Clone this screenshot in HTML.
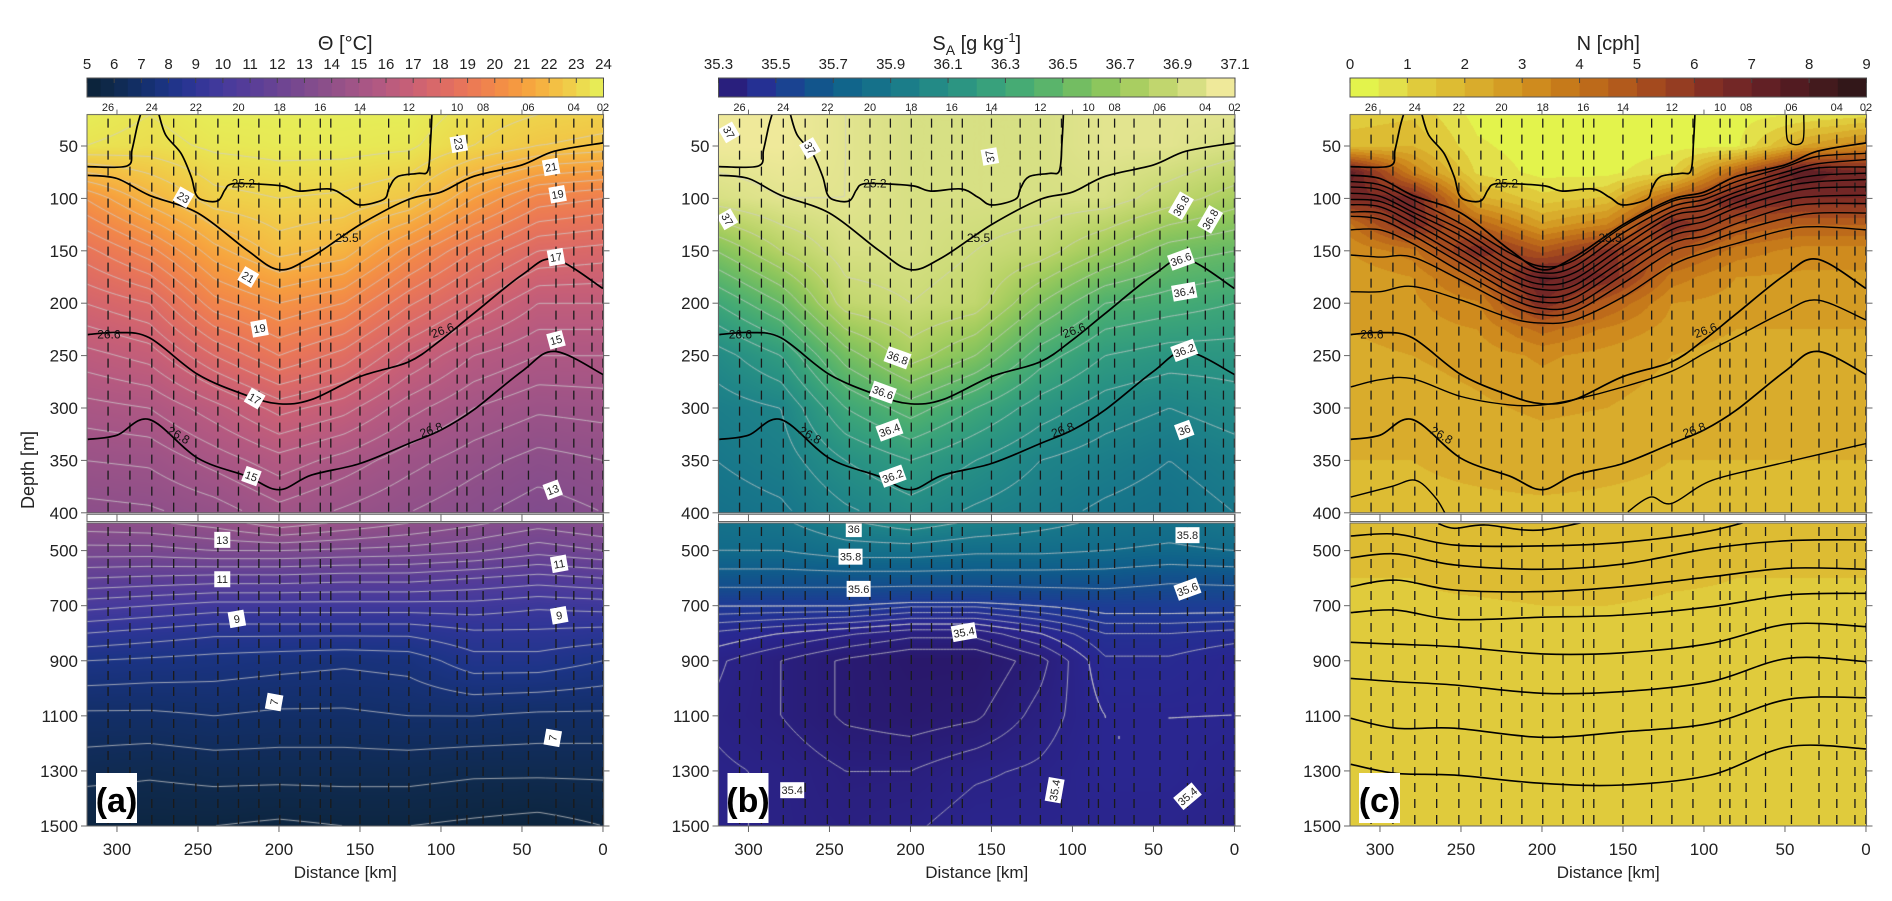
<!DOCTYPE html>
<html><head><meta charset="utf-8">
<style>
body{margin:0;background:#fff;width:1892px;height:901px;overflow:hidden;font-family:"Liberation Sans",sans-serif}
#cv{position:absolute;left:0;top:0}
#sv{position:absolute;left:0;top:0}
</style></head>
<body>
<canvas id="cv" width="1892" height="901"></canvas>
<svg id="sv" width="1892" height="901" xmlns="http://www.w3.org/2000/svg"></svg>
<script>
// ---------------- DATA ----------------
const KM=[320,280,240,200,160,120,80,40,0];
const DEP_U=[20,50,100,150,200,250,300,350,400];
const DEP_L=[400,500,600,700,800,900,1100,1300,1500];
const THETA_U=[
[23.8,23.5,23.8,23.8,23.8,23.8,23.3,23.0,22.8],
[23.5,23.3,23.6,23.7,23.7,23.6,23.0,22.5,22.3],
[20.5,21.8,22.8,23.0,22.9,22.5,21.0,19.8,19.5],
[18.8,19.8,21.3,22.2,21.8,20.3,19.0,18.0,17.8],
[17.5,18.0,19.8,20.5,20.0,18.6,17.5,16.5,16.5],
[16.3,16.7,18.0,19.0,18.3,17.0,16.0,15.5,15.5],
[15.3,15.5,16.3,17.2,16.7,15.7,15.0,14.6,14.7],
[14.5,14.6,15.2,15.8,15.3,14.7,14.2,13.8,14.0],
[13.8,13.9,14.2,14.8,14.4,14.0,13.6,13.2,13.5]];
const THETA_L=[
[13.8,13.9,14.2,14.8,14.4,14.0,13.6,13.2,13.5],
[12.8,12.8,13.0,13.0,12.9,12.8,12.6,12.2,12.5],
[11.5,11.4,11.3,11.3,11.2,11.2,11.0,10.8,11.0],
[10.2,10.0,9.8,9.8,9.8,9.8,9.8,9.6,9.7],
[9.0,8.8,8.6,8.6,8.6,8.6,8.9,8.9,8.8],
[8.0,7.9,7.8,7.7,7.6,7.7,8.3,8.3,8.0],
[6.9,6.9,7.0,6.9,6.9,7.0,7.0,6.9,6.9],
[6.2,6.1,6.2,6.2,6.2,6.2,6.1,6.1,6.1],
[5.5,5.5,5.5,5.4,5.5,5.5,5.4,5.3,5.5]];
const SA_U=[
[37.05,37.05,37.0,36.95,36.95,36.95,37.0,37.0,37.0],
[37.05,37.05,37.0,36.95,36.95,36.95,37.0,37.0,36.95],
[36.95,37.0,37.0,36.95,36.95,36.95,36.95,36.85,36.75],
[36.6,36.8,36.95,36.95,36.9,36.85,36.7,36.55,36.5],
[36.3,36.5,36.85,36.9,36.85,36.6,36.4,36.35,36.3],
[36.05,36.2,36.55,36.75,36.6,36.35,36.2,36.15,36.15],
[35.95,36.0,36.3,36.45,36.3,36.15,36.05,36.0,36.05],
[35.9,35.95,36.1,36.2,36.1,36.0,35.95,35.9,35.95],
[35.85,35.88,35.98,36.05,35.98,35.93,35.88,35.85,35.9]];
const SA_L=[
[35.85,35.88,35.98,36.05,35.98,35.93,35.88,35.85,35.9],
[35.8,35.8,35.85,35.85,35.82,35.82,35.8,35.78,35.8],
[35.65,35.65,35.65,35.65,35.65,35.65,35.65,35.62,35.63],
[35.5,35.5,35.5,35.48,35.48,35.5,35.52,35.52,35.52],
[35.42,35.4,35.38,35.36,35.36,35.4,35.45,35.45,35.44],
[35.38,35.35,35.32,35.3,35.3,35.34,35.42,35.42,35.4],
[35.37,35.35,35.32,35.31,35.32,35.36,35.4,35.4,35.4],
[35.38,35.37,35.35,35.35,35.37,35.38,35.4,35.4,35.39],
[35.38,35.37,35.36,35.37,35.39,35.39,35.39,35.39,35.38]];
const DEP_NU=[20,50,75,100,125,150,175,200,225,250,300,350,400];
const N_U=[
[1.2,1.4,0.3,0.2,0.2,0.2,0.3,0.5,0.8],
[1.8,2.0,0.6,0.2,0.2,0.3,0.4,2.5,3.5],
[7.5,3.5,0.9,0.3,0.3,1.0,4.5,7.5,6.5],
[6.5,6.8,2.2,1.2,1.6,4.5,6.8,6.5,6.5],
[3.8,6.5,4.5,2.6,3.5,6.5,5.0,4.5,4.5],
[3.0,3.8,6.5,4.8,6.2,5.0,3.8,3.3,3.3],
[2.6,3.0,4.6,7.2,6.5,3.8,3.0,2.9,2.9],
[2.5,2.9,3.4,6.5,4.6,3.0,2.8,2.7,2.7],
[2.5,2.8,3.0,4.2,3.4,2.8,2.5,2.5,2.5],
[2.3,2.5,2.7,3.1,2.8,2.5,2.3,2.3,2.3],
[2.1,2.2,2.4,2.6,2.5,2.3,2.2,2.2,2.2],
[2.0,2.0,2.1,2.2,2.1,2.0,2.0,2.0,2.0],
[1.9,1.9,1.9,1.9,1.9,1.9,1.9,1.9,1.9]];
const N_L=[
[1.9,1.9,1.9,1.9,1.9,1.9,1.9,1.9,1.9],
[1.7,1.7,1.9,2.0,1.9,1.8,1.6,1.6,1.6],
[1.5,1.5,1.7,1.8,1.8,1.6,1.5,1.5,1.5],
[1.4,1.4,1.4,1.5,1.5,1.4,1.4,1.4,1.4],
[1.3,1.3,1.3,1.3,1.3,1.3,1.3,1.3,1.3],
[1.2,1.2,1.2,1.2,1.2,1.2,1.2,1.2,1.2],
[1.1,1.1,1.1,1.1,1.1,1.1,1.1,1.1,1.1],
[1.05,1.05,1.05,1.05,1.05,1.05,1.05,1.05,1.05],
[1.0,1.0,1.0,1.0,1.0,1.0,1.0,1.0,1.0]];

// isopycnals
const ISO_KM=[318,300,280,250,220,200,180,150,120,100,80,50,30,0];
const ISO_255=[78,81,97,114,149,168,156,125,101,94,79,68,55,47];
const ISO_266=[230,228,233,268,288,296,292,270,256,235,210,173,158,186];
const ISO_268=[330,326,311,348,365,378,364,353,334,321,302,265,246,268];
const ISO_252_KM=[274.1,269.9,260.5,254.2,251.1,245.9,237.5,233.4,229.2,214.6,197.9,187.4,168.7,158.2,149.9,135.3,132.1,126.9,114.4,108.1,106.5,105.6];
const ISO_252_D=[20,39.5,57,79.3,96.7,102.1,102.1,92,86.2,86.2,88.2,93,91,99,106.3,100.9,90.4,79.3,76.1,73.8,47.5,20];
const ISO_TOP_KM=[318.5,293.9,290.7,287.6,285.5];
const ISO_TOP_D=[69.7,69.1,53.8,31.6,20];
const C_B=[
[84,87,101,124,152,165,159,127,103,97,84,70,60,57],
[89,92,108,130,159,171,165,133,108,101,89,75,67,63],
[95,98,113,136,165,176,171,140,113,106,94,79,71,70],
[101,103,117,143,171,182,177,146,117,111,98,84,78,76],
[106,108,123,149,177,187,183,152,124,117,104,89,84,82],
[113,114,129,156,183,194,189,159,130,122,109,95,90,89],
[117,120,135,162,189,199,195,165,136,129,116,102,98,97],
[130,130,143,170,195,205,202,173,143,136,124,109,105,105],
[154,156,156,178,202,211,208,181,151,143,132,119,114,114],
[189,189,184,197,214,219,216,194,164,152,143,130,127,130],
[280,273,272,289,297,297,292,280,265,248,232,208,197,216]];
const C_E2A_KM=[318,293,278,266,260], C_E2A_D=[385,375,369,385,400];
const C_E2B_KM=[147,133,120,95,53,0], C_E2B_D=[399,385,391,369,353,334];
const C_BOX_KM=[49.2,48.2,39.2,38.4], C_BOX_D=[20,45,46,20];
const LOW_KM=[318,290,254,200,150,96,48,0];
const C_LOW=[
[526,512,552,568,549,492,464,461],
[631,607,643,649,631,595,564,568],
[725,716,750,742,734,704,661,655],
[833,840,849,875,871,837,767,776],
[964,976,988,1018,1012,976,891,903],
[1109,1145,1145,1178,1158,1127,1040,1034],
[1276,1309,1315,1345,1351,1315,1212,1220]];
const C_LOW1_KM=[264,254,235,200,150], C_LOW1_D=[402,419,407,425,400];
const C_LOW2_KM=[318,290,254,200,150,96,50], C_LOW2_D=[447,440,480,483,470,428,398];

const STATIONS=[305.5,292,278.5,265,251.3,237.7,225,212.4,199.5,187,174.5,168,150,132.3,119.8,106.8,90,84,74,62,46,29,18,6.8,0];
const STATION_IDS=["26","25","24","23","22","21","20","19","18","17","16","15","14","13","12","11","10","09","08","07","06","05","04","03","02"];
const X_TICKS=[300,250,200,150,100,50,0];
const YU_TICKS=[50,100,150,200,250,300,350,400];
const YL_TICKS=[500,700,900,1100,1300,1500];

const ISO_LABELS=[["25.2",222,86,0],["25.5",158,138,0],["26.6",305,230,0],["26.6",99,226,-20],["26.8",262,326,30],["26.8",106,321,-20]];
const A_LABELS=[["23",89,48,80],["21",32,70,-10],["19",28,96,-10],["23",259,99,30],["21",219,175,30],["19",212,224,-10],["17",29,156,-10],["17",215,291,30],["15",29,235,-15],["15",217,365,20],["13",31,378,-20],
["13",235,461,0],["11",235,604,0],["9",226,748,-10],["7",203,1050,-80],["11",27,548,-10],["9",27,735,-10],["7",31,1180,-80]];
const B_LABELS=[["37",312,37,60],["37",262,52,60],["37",151,60,-100],["37",313,120,60],["36.8",33,107,-60],["36.8",15,120,-60],["36.6",33,158,-20],["36.4",31,189,-10],["36.2",31,245,-20],["36",31,321,-20],
["36.8",208,252,20],["36.6",217,285,20],["36.4",213,321,-20],["36.2",211,365,-20],
["36",235,422,0],["35.8",237,522,0],["35.6",232,639,0],["35.4",167,796,-10],["35.8",29,444,0],["35.6",29,640,-20],["35.4",273,1370,0],["35.4",111,1370,-80],["35.4",29,1392,-40]];

const THERMAL=[[5,'#0b2236'],[6,'#0f2a4e'],[7,'#132f6a'],[8,'#1c3486'],[9,'#2f3597'],[10,'#453a9c'],[11,'#573d98'],[12,'#6a4393'],[13,'#7d4a8e'],[14,'#905089'],[15,'#a45586'],[16,'#b75a80'],[17,'#ca6075'],[18,'#dc6a66'],[19,'#ea7757'],[20,'#f28849'],[21,'#f69e3e'],[22,'#f5b942'],[23,'#eed44b'],[24,'#e4f35a']];
const HALINE=[[35.3,'#29186b'],[35.4,'#2a2690'],[35.5,'#1f3a96'],[35.6,'#144d8c'],[35.7,'#0f5e8b'],[35.8,'#126b8a'],[35.9,'#18778a'],[36.0,'#1f8488'],[36.1,'#279084'],[36.2,'#319b7f'],[36.3,'#3ea678'],[36.4,'#4fb06f'],[36.5,'#66b966'],[36.6,'#80c25e'],[36.7,'#9bca5c'],[36.8,'#b6d265'],[36.9,'#ccdb78'],[37.0,'#e2e48f'],[37.1,'#fdefa5']];
const N_COLORS=['#e3f34c','#e3e04a','#e0cb3c','#ddbc33','#d9ac2c','#d49c24','#cf8b1e','#c67a1a','#bd6a1a','#b25a1c','#a44a1e','#953d22','#832f24','#732726','#622025','#521b21','#431a1d','#321719'];

// ---------------- GEOMETRY ----------------
const LEFTS=[87,718.5,1350];
const PW=516.5, KMAX=318.5, SX=1.62;
const U_TOP=114.6, U_BOT=512.8, L_TOP=523, L_BOT=826;
const xOf=(p,km)=>LEFTS[p]+(KMAX-km)*SX;
const yU=d=>146+(d-50)*1.048;
const yL=d=>826-(1500-d)*0.2754;
const dU=y=>50+(y-146)/1.048;
const dL=y=>1500-(826-y)/0.2754;
const yAny=d=>d<=400?yU(d):yL(d);

function hex(h){return [parseInt(h.slice(1,3),16),parseInt(h.slice(3,5),16),parseInt(h.slice(5,7),16)];}
function cmap(stops,v){
  if(v<=stops[0][0]) return hex(stops[0][1]);
  for(let i=0;i<stops.length-1;i++){
    if(v<=stops[i+1][0]){const t=(v-stops[i][0])/(stops[i+1][0]-stops[i][0]);const a=hex(stops[i][1]),b=hex(stops[i+1][1]);return [a[0]+(b[0]-a[0])*t,a[1]+(b[1]-a[1])*t,a[2]+(b[2]-a[2])*t];}
  }
  return hex(stops[stops.length-1][1]);
}
function ncol(v){let b=Math.floor(v/0.5);b=Math.max(0,Math.min(17,b));return hex(N_COLORS[b]);}
function fieldAt(grid,kms,deps,km,d){
  let i=0; while(i<kms.length-2 && km<kms[i+1]) i++;
  let t=(kms[i]-km)/(kms[i]-kms[i+1]); t=Math.max(0,Math.min(1,t));
  let j=0; while(j<deps.length-2 && d>deps[j+1]) j++;
  let u=(d-deps[j])/(deps[j+1]-deps[j]); u=Math.max(0,Math.min(1,u));
  return grid[j][i]*(1-t)*(1-u)+grid[j][i+1]*t*(1-u)+grid[j+1][i]*(1-t)*u+grid[j+1][i+1]*t*u;
}

// ---------------- CANVAS FIELDS ----------------
const cv=document.getElementById('cv'), ctx=cv.getContext('2d');
const img=ctx.createImageData(1892,901);
const PANEL_DEF=[
 {u:[THETA_U,DEP_U],l:[THETA_L,DEP_L],col:v=>cmap(THERMAL,v),levels:[],cont:true},
 {u:[SA_U,DEP_U],l:[SA_L,DEP_L],col:v=>cmap(HALINE,v),levels:[],cont:true},
 {u:[N_U,DEP_NU],l:[N_L,DEP_L],col:ncol,levels:[],cont:false}];
for(let v=5;v<=24.01;v+=0.5) PANEL_DEF[0].levels.push(v);
for(let v=35.3;v<=37.11;v+=0.1) PANEL_DEF[1].levels.push(v);
for(let v=35.325;v<35.5;v+=0.025) PANEL_DEF[1].levels.push(v);
const SECTS=[[U_TOP,U_BOT,dU,'u'],[L_TOP,L_BOT,dL,'l']];
PANEL_DEF.forEach((P,p)=>{
  SECTS.forEach(([t,b,inv,k])=>{
    const g=P[k];
    for(let y=Math.floor(t);y<Math.ceil(b);y++){
      const d=inv(y+0.5);
      for(let x=Math.floor(LEFTS[p]);x<Math.ceil(LEFTS[p]+PW);x++){
        const km=KMAX-(x+0.5-LEFTS[p])/SX;
        const c=P.col(fieldAt(g[0],KM,g[1],km,d));
        const o=(y*1892+x)*4; img.data[o]=c[0];img.data[o+1]=c[1];img.data[o+2]=c[2];img.data[o+3]=255;
      }
    }
  });
});
ctx.putImageData(img,0,0);
PANEL_DEF.forEach((P,p)=>{
  if(!P.cont) return;
  SECTS.forEach(([t,b,inv,k])=>{
    const g=P[k], st=3;
    const xs=[],ys=[];
    for(let x=LEFTS[p];x<=LEFTS[p]+PW;x+=st) xs.push(x);
    for(let y=t;y<=b;y+=st) ys.push(y);
    const F=ys.map(y=>xs.map(x=>fieldAt(g[0],KM,g[1],KMAX-(x-LEFTS[p])/SX,inv(y))));
    ctx.save(); ctx.beginPath(); ctx.rect(LEFTS[p],t,PW,b-t); ctx.clip();
    ctx.strokeStyle='rgba(205,205,205,0.75)'; ctx.lineWidth=1;
    ctx.beginPath();
    P.levels.forEach(L=>{
      for(let j=0;j<ys.length-1;j++) for(let i=0;i<xs.length-1;i++){
        const v=[F[j][i],F[j][i+1],F[j+1][i+1],F[j+1][i]];
        const pt=[[xs[i],ys[j]],[xs[i+1],ys[j]],[xs[i+1],ys[j+1]],[xs[i],ys[j+1]]];
        const pts=[];
        for(let e=0;e<4;e++){const a=v[e],c=v[(e+1)%4];
          if((a-L)*(c-L)<0){const f=(L-a)/(c-a);const A=pt[e],B=pt[(e+1)%4];pts.push([A[0]+(B[0]-A[0])*f,A[1]+(B[1]-A[1])*f]);}}
        for(let q=0;q+1<pts.length;q+=2){ctx.moveTo(pts[q][0],pts[q][1]);ctx.lineTo(pts[q+1][0],pts[q+1][1]);}
      }
    });
    ctx.stroke(); ctx.restore();
  });
});

// ---------------- SVG ----------------
const NS='http://www.w3.org/2000/svg', sv=document.getElementById('sv');
function el(tag,attrs,parent){const e=document.createElementNS(NS,tag);for(const k in attrs)e.setAttribute(k,attrs[k]);(parent||sv).appendChild(e);return e;}
function smooth(pts){
  let s=`M${pts[0][0].toFixed(1)},${pts[0][1].toFixed(1)}`;
  for(let i=0;i<pts.length-1;i++){
    const p0=pts[i-1]||pts[i],p1=pts[i],p2=pts[i+1],p3=pts[i+2]||pts[i+1];
    const c1=[p1[0]+(p2[0]-p0[0])/6,p1[1]+(p2[1]-p0[1])/6],c2=[p2[0]-(p3[0]-p1[0])/6,p2[1]-(p3[1]-p1[1])/6];
    s+=` C${c1[0].toFixed(1)},${c1[1].toFixed(1)} ${c2[0].toFixed(1)},${c2[1].toFixed(1)} ${p2[0].toFixed(1)},${p2[1].toFixed(1)}`;
  }
  return s;
}
const defs=el('defs',{});
for(let p=0;p<3;p++){
  const cu=el('clipPath',{id:'cu'+p},defs); el('rect',{x:LEFTS[p],y:U_TOP,width:PW,height:U_BOT-U_TOP},cu);
  const cl=el('clipPath',{id:'cl'+p},defs); el('rect',{x:LEFTS[p],y:L_TOP,width:PW,height:L_BOT-L_TOP},cl);
}
const TITLES=['Θ [°C]',null,'N [cph]'];
const CB=[
 {min:5,max:24,step:0.5,labels:[5,6,7,8,9,10,11,12,13,14,15,16,17,18,19,20,21,22,23,24],col:v=>cmap(THERMAL,v)},
 {min:35.3,max:37.1,step:0.1,labels:[35.3,35.5,35.7,35.9,36.1,36.3,36.5,36.7,36.9,37.1],col:v=>cmap(HALINE,v)},
 {min:0,max:9,step:0.5,labels:[0,1,2,3,4,5,6,7,8,9],col:ncol}];
const PNAMES=['a','b','c'];
for(let p=0;p<3;p++){
  const L=LEFTS[p], R=L+PW, g=el('g',{});
  
  
  let tt;
  if(p===1){
    tt=el('text',{x:(L+R)/2,y:50,'text-anchor':'middle','font-size':20,fill:'#222'},g);
    tt.innerHTML='S<tspan font-size="14" dy="5">A</tspan><tspan dy="-5"> [g kg</tspan><tspan font-size="13" dy="-8">-1</tspan><tspan dy="8">]</tspan>';
  } else {
    tt=el('text',{x:(L+R)/2,y:50,'text-anchor':'middle','font-size':20,fill:'#222'},g); tt.textContent=TITLES[p];
  }
  
  
  const cb=CB[p], n=Math.round((cb.max-cb.min)/cb.step), w=PW/n;
  const cbg=el('g',{},g);
  
  
  for(let i=0;i<n;i++){const c=cb.col(cb.min+(i+0.5)*cb.step);
    const r=el('rect',{x:L+i*w,y:78,width:w+0.5,height:19,fill:`rgb(${c.map(Math.round).join(',')})`},cbg);
    
    
  }
  el('rect',{x:L,y:78,width:PW,height:19,fill:'none',stroke:'#555','stroke-width':1},cbg);
  cb.labels.forEach(v=>{const x=L+(v-cb.min)/(cb.max-cb.min)*PW;
    el('line',{x1:x,x2:x,y1:78,y2:83,stroke:'#444','stroke-width':1},cbg);
    const t=el('text',{x:x,y:69,'text-anchor':'middle','font-size':15,fill:'#222'},cbg); t.textContent=String(v);
    
    
  });
  STATIONS.forEach((km,i)=>{ if(i%2===0){const t=el('text',{x:xOf(p,km),y:111,'text-anchor':'middle','font-size':11,fill:'#222'},g);t.textContent=STATION_IDS[i];
    
    }});
  X_TICKS.forEach(km=>{const x=xOf(p,km); el('line',{x1:x,x2:x,y1:U_TOP,y2:U_TOP-5,stroke:'#666'},g);});
  ['cu','cl'].forEach((c,ci)=>{
    const sg=el('g',{'clip-path':`url(#${c}${p})`},g);
    
    
    const t=ci?L_TOP:U_TOP, b=ci?L_BOT:U_BOT;
    STATIONS.forEach(km=>{const x=xOf(p,km); el('line',{x1:x,x2:x,y1:t+4,y2:b,stroke:'#1a1a1a','stroke-width':1.3,'stroke-dasharray':'9,7'},sg);});
  });
  const ig=el('g',{'clip-path':`url(#cu${p})`,fill:'none',stroke:'#000','stroke-width':1.7},g);
  
  
  const addLine=(kms,ds,name,wd,clipL)=>{
    const pa=el('path',{d:smooth(kms.map((k,i)=>[xOf(p,k),yAny(ds[i])])),'stroke-width':wd||1.7},clipL||ig);
    
    
  };
  addLine(ISO_KM,ISO_255,'isopycnal-25.5');
  addLine(ISO_KM,ISO_266,'isopycnal-26.6');
  addLine(ISO_KM,ISO_268,'isopycnal-26.8');
  addLine(ISO_252_KM,ISO_252_D,'isopycnal-25.2');
  addLine(ISO_TOP_KM,ISO_TOP_D,'isopycnal-surface');
  if(p===2){
    C_B.forEach(ds=>addLine(ISO_KM,ds,'isopycnal-extra',1.4));
    addLine(C_E2A_KM,C_E2A_D,'isopycnal-extra',1.4);
    addLine(C_E2B_KM,C_E2B_D,'isopycnal-extra',1.4);
    addLine(C_BOX_KM,C_BOX_D,'isopycnal-extra',1.4);
    const lg=el('g',{'clip-path':`url(#cl${p})`,fill:'none',stroke:'#000'},g);
    
    
    C_LOW.forEach(ds=>addLine(LOW_KM,ds,'isopycnal-deep',1.6,lg));
    addLine(C_LOW1_KM,C_LOW1_D,'isopycnal-deep',1.6,lg);
    addLine(C_LOW2_KM,C_LOW2_D,'isopycnal-deep',1.6,lg);
  }
  ISO_LABELS.forEach(([s,km,d,r])=>{const x=xOf(p,km),y=yU(d);
    const t=el('text',{x:x,y:y+4,'text-anchor':'middle','font-size':12,fill:'#111',transform:`rotate(${r},${x},${y})`},g);t.textContent=s;
    
    });
  const labs=p===0?A_LABELS:(p===1?B_LABELS:[]);
  labs.forEach(([s,km,d,r])=>{const x=xOf(p,km),y=yAny(d);const w=s.length>2?24:16;
    const lg=el('g',{transform:`rotate(${r},${x},${y})`},g);
    
    
    el('rect',{x:x-w/2,y:y-8,width:w,height:16,fill:'#fff'},lg);
    const t=el('text',{x:x,y:y+4,'text-anchor':'middle','font-size':11,fill:'#222'},lg);t.textContent=s;});
  const fr=el('g',{fill:'none',stroke:'#666','stroke-width':1},g);
  
  
  el('rect',{x:L,y:U_TOP,width:PW,height:U_BOT-U_TOP},fr);
  el('rect',{x:L,y:L_TOP,width:PW,height:L_BOT-L_TOP},fr);
  el('rect',{x:L,y:U_BOT+1.5,width:PW,height:L_TOP-U_BOT-3,fill:'#fff'},fr);
  X_TICKS.forEach(km=>{const x=xOf(p,km);
    el('line',{x1:x,x2:x,y1:U_BOT+1.5,y2:L_TOP-1.5},fr);
    el('line',{x1:x,x2:x,y1:L_BOT,y2:L_BOT+6},fr);
    const t=el('text',{x:x,y:855,'text-anchor':'middle','font-size':17,fill:'#222',stroke:'none'},g);t.textContent=String(km);
    
    });
  const xt=el('text',{x:(L+R)/2,y:878,'text-anchor':'middle','font-size':17,fill:'#222'},g);xt.textContent='Distance [km]';
  
  
  [[YU_TICKS,yU],[YL_TICKS,yL]].forEach(([ticks,f])=>ticks.forEach(d=>{const y=f(d);
    el('line',{x1:L-6,x2:L,y1:y,y2:y},fr); el('line',{x1:R,x2:R+6,y1:y,y2:y},fr);
    const t=el('text',{x:L-9,y:y+6,'text-anchor':'end','font-size':17,fill:'#222',stroke:'none'},g);t.textContent=String(d);
    
    }));
  const pl=el('g',{},g);
  
  
  el('rect',{x:L+9,y:773,width:41,height:50,fill:'#fff'},pl);
  const lt=el('text',{x:L+29.5,y:812,'text-anchor':'middle','font-size':34,'font-weight':'bold',fill:'#000'},pl);lt.textContent=`(${PNAMES[p]})`;
}
const yt=el('text',{x:34,y:470,'text-anchor':'middle','font-size':18,fill:'#222',transform:'rotate(-90,34,470)'});
yt.textContent='Depth [m]';


</script>
</body></html>
